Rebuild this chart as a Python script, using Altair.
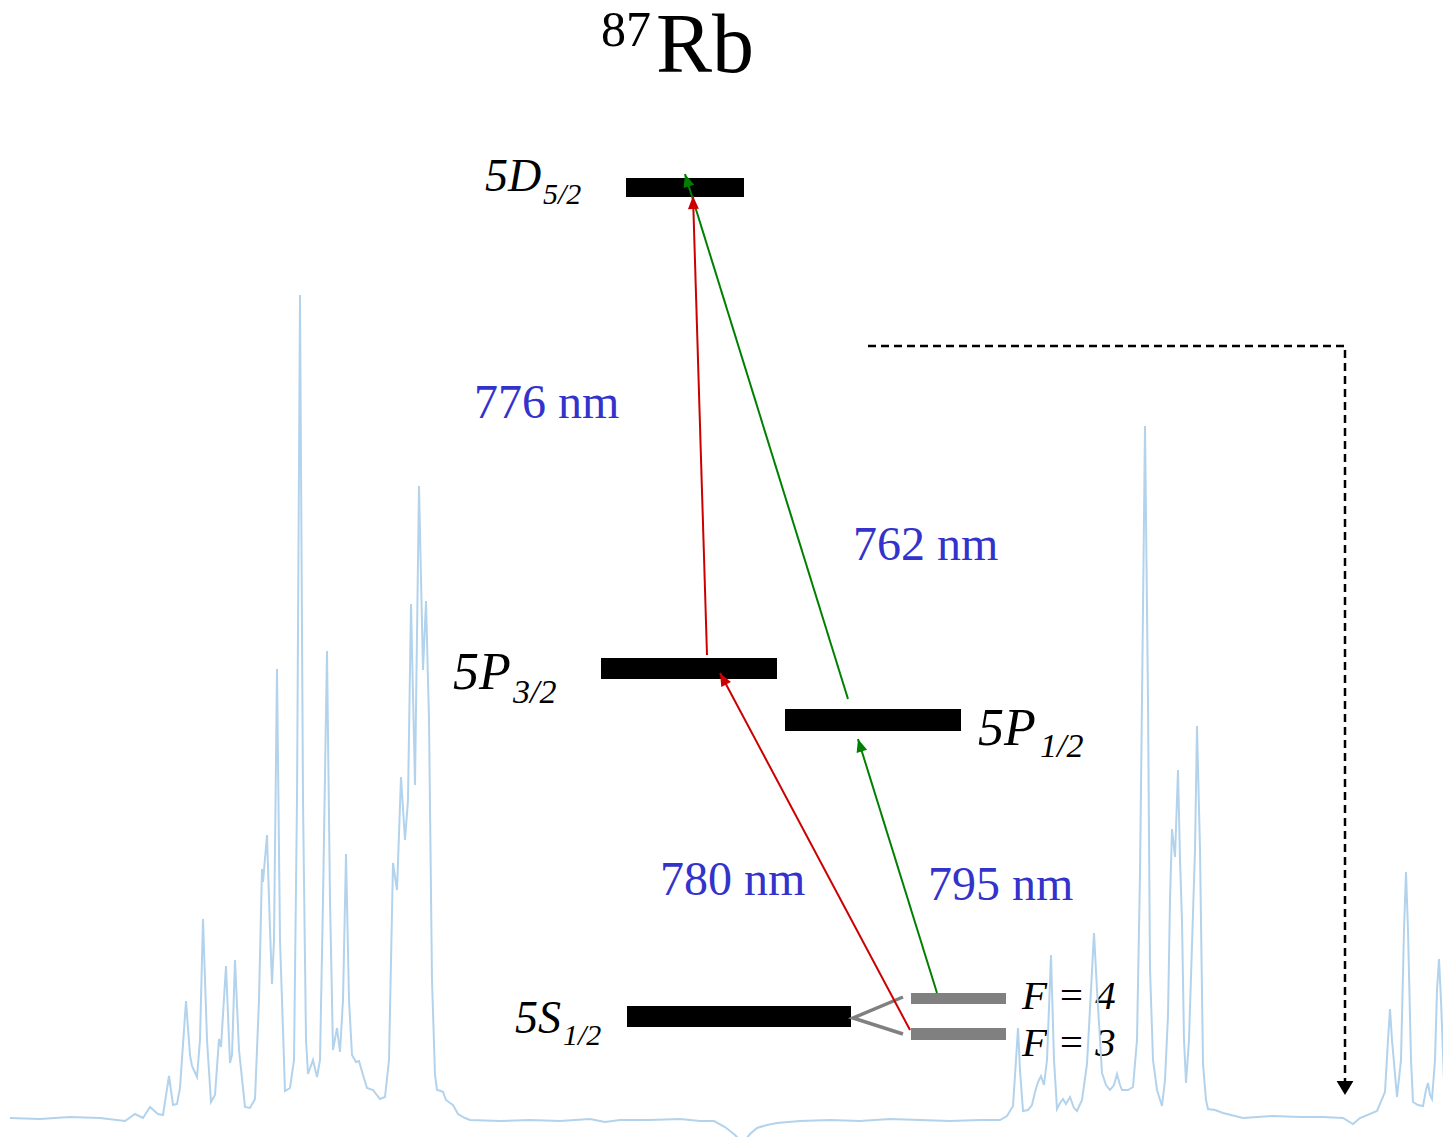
import math
import altair as alt
import pandas as pd

# ---------------- spectrum trace (background) ----------------
trace_x = [10, 40, 70, 100, 125, 135, 143, 150, 158, 163, 169, 173, 177, 180, 186, 190, 192, 197, 200, 203,
           207, 211, 215, 219, 221, 226, 230, 232, 235, 239, 245, 250, 255, 259, 262, 263, 267, 270, 272, 274,
           277, 280, 285, 290, 294, 297, 300, 303, 306, 308, 313, 317, 320, 323, 327, 330, 333, 337, 340, 343,
           346, 349, 352, 356, 359, 363, 367, 373, 380, 385, 389, 393, 397, 401, 405, 408, 411, 415, 419, 423,
           426, 429, 432, 435, 437, 441, 443, 446, 450, 453, 458, 465,
           470, 500, 530, 560, 590, 605, 620, 650, 680, 700, 714, 725, 735, 743, 750, 757, 767, 777, 800, 830,
           860, 890, 920, 950, 980, 1000,
           1007, 1013, 1016, 1018, 1020, 1023, 1028, 1032, 1035, 1038, 1041, 1044, 1047, 1051, 1054, 1057, 1060,
           1063, 1066, 1070, 1074, 1077, 1082, 1087, 1091, 1094, 1097, 1102, 1106, 1110, 1114, 1117, 1120, 1122,
           1128, 1133, 1137, 1140, 1142, 1145, 1148, 1150, 1153, 1157, 1162, 1165, 1168, 1170, 1172, 1175, 1178,
           1180, 1182, 1184, 1186, 1189, 1192, 1195, 1197, 1200, 1203, 1206, 1208, 1215, 1223, 1243,
           1273, 1300, 1323, 1343, 1353, 1360, 1377, 1385, 1388, 1390, 1392, 1397, 1401, 1404, 1406, 1408, 1411,
           1413, 1418, 1423, 1426, 1428, 1430, 1432, 1435, 1437, 1439, 1441, 1444, 1447]
trace_y = [1118, 1119, 1117, 1118, 1121, 1114, 1118, 1107, 1114, 1115, 1076, 1105, 1104, 1088, 1001, 1055, 1066, 1077, 1040, 919,
           1040, 1102, 1095, 1039, 1047, 966, 1063, 1055, 960, 1050, 1107, 1108, 1099, 1000, 869, 882, 835, 930, 984, 940,
           669, 940, 1091, 1088, 1060, 800, 295, 800, 1040, 1074, 1060, 1077, 1060, 900, 651, 900, 1050, 1028, 1052, 1000,
           854, 1000, 1055, 1062, 1061, 1075, 1088, 1090, 1099, 1097, 1060, 863, 890, 777, 840, 800, 604, 785, 486, 670,
           601, 720, 980, 1075, 1090, 1091, 1092, 1100, 1103, 1105, 1114, 1118,
           1120, 1121, 1120, 1121, 1119, 1122, 1120, 1120, 1119, 1121, 1121, 1127, 1135, 1143, 1134, 1128, 1125, 1123, 1121, 1120,
           1121, 1119, 1120, 1121, 1120, 1120,
           1116, 1106, 1060, 1028, 1070, 1111, 1110, 1105, 1092, 1082, 1076, 1085, 1060, 955, 1060, 1109, 1103,
           1099, 1104, 1097, 1108, 1111, 1100, 1064, 990, 933, 990, 1073, 1085, 1090, 1085, 1074, 1085, 1090,
           1090, 1087, 1040, 874, 700, 426, 700, 969, 1060, 1090, 1106, 1080, 1016, 900, 829, 857, 770,
           860, 921, 1040, 1083, 1040, 945, 850, 726, 850, 1064, 1100, 1109, 1110, 1113, 1118,
           1116, 1117, 1117, 1118, 1124, 1118, 1111, 1092, 1040, 1009, 1040, 1097, 1060, 930, 872, 930, 1060,
           1102, 1105, 1106, 1090, 1083, 1095, 1099, 1060, 990, 959, 1000, 1080, 1106]

# ---------------- energy levels ----------------
level_main = ["5D", "5P", "5P", "5S"]
level_sub = ["5/2", "3/2", "1/2", "1/2"]
level_x0 = [626, 601, 785, 627]
level_x1 = [744, 777, 961, 851]
level_y0 = [178, 658, 709, 1006]
level_y1 = [197, 679, 731, 1027]
label_x = [485, 453, 978, 515]
label_y = [191, 689, 745, 1033]
label_size = [46, 52, 52, 46]
sub_x = [543, 513, 1040, 563]
sub_y = [204, 703, 757, 1045]
sub_size = [30, 34, 34, 30]

# hyperfine sub-levels of 5S1/2
hf_text = ["F = 4", "F = 3"]
hf_x0 = [911, 911]
hf_x1 = [1006, 1006]
hf_y0 = [993, 1028]
hf_y1 = [1004, 1040]
hf_label_x = [1022, 1022]
hf_label_y = [1009, 1056]
split_x = [903, 853, 903]
split_y = [997, 1018, 1034]

# ---------------- transitions ----------------
arrow_x0 = [910, 707, 937, 848]
arrow_y0 = [1030, 655, 993, 699]
arrow_x1 = [720, 693, 858, 685]
arrow_y1 = [673, 196, 739, 174]
arrow_color = ["#cc0000", "#cc0000", "#008000", "#008000"]

wl_text = ["776 nm", "762 nm", "780 nm", "795 nm"]
wl_x = [474, 853, 660, 928]
wl_y = [418, 560, 895, 900]

# dashed feedback arrow
dash_x = [868, 1345, 1345]
dash_y = [346, 346, 1082]
dash_tip_x = [1345]
dash_tip_y = [1095]

# title
title_parts = ["87", "Rb"]
title_x = [601, 656]
title_y = [46, 72]
title_size = [50, 84]

# ---------------- build ----------------
XS = alt.Scale(domain=[8, 1443], nice=False, zero=False)
YS = alt.Scale(domain=[8, 1137], nice=False, zero=False, reverse=True)


def X(f="x"):
    return alt.X(f"{f}:Q", scale=XS, axis=None)


def Y(f="y"):
    return alt.Y(f"{f}:Q", scale=YS, axis=None)


trace_df = pd.DataFrame({"x": trace_x, "y": trace_y, "i": range(len(trace_x))})
trace = alt.Chart(trace_df).mark_line(color="#b3d3ec", strokeWidth=2).encode(
    x=X(), y=Y(), order="i:Q")

lev_df = pd.DataFrame({"x": level_x0, "x2": level_x1, "y": level_y0, "y2": level_y1})
levels = alt.Chart(lev_df).mark_rect(color="black").encode(
    x=X(), x2="x2", y=Y(), y2="y2")

hf_df = pd.DataFrame({"x": hf_x0, "x2": hf_x1, "y": hf_y0, "y2": hf_y1})
hf = alt.Chart(hf_df).mark_rect(color="#808080").encode(x=X(), x2="x2", y=Y(), y2="y2")

split_df = pd.DataFrame({"x": split_x, "y": split_y, "i": range(3)})
split = alt.Chart(split_df).mark_line(color="#808080", strokeWidth=3.5).encode(
    x=X(), y=Y(), order="i:Q")

angles = []
for a, b, c, d in zip(arrow_x0, arrow_y0, arrow_x1, arrow_y1):
    ang = math.degrees(math.atan2(c - a, -(d - b))) % 360
    angles.append(ang)
arr_df = pd.DataFrame({"x": arrow_x0, "y": arrow_y0, "x2": arrow_x1, "y2": arrow_y1,
                       "c": arrow_color, "ang": angles})
arr_lines = alt.Chart(arr_df).mark_rule(strokeWidth=2).encode(
    x=X(), y=Y(), x2="x2", y2="y2", color=alt.Color("c:N", scale=None))
arr_heads = alt.Chart(arr_df).mark_point(
    shape="M0,0L0.42,1L-0.42,1Z", filled=True, opacity=1, size=680, strokeWidth=0).encode(
    x=X("x2"), y=Y("y2"), angle=alt.Angle("ang:Q", scale=None), color=alt.Color("c:N", scale=None))

dash_df = pd.DataFrame({"x": dash_x, "y": dash_y, "i": range(3)})
dash = alt.Chart(dash_df).mark_line(color="black", strokeWidth=2.5, strokeDash=[8, 5]).encode(
    x=X(), y=Y(), order="i:Q")
dtip_df = pd.DataFrame({"x": dash_tip_x, "y": dash_tip_y})
dtip = alt.Chart(dtip_df).mark_point(
    shape="M0,0L0.6,1L-0.6,1Z", filled=True, opacity=1, size=784, strokeWidth=0, color="black",
    angle=180).encode(x=X(), y=Y())

SERIF = "Liberation Serif"

lab_df = pd.DataFrame({"x": label_x, "y": label_y, "t": level_main, "s": label_size})
labs = alt.Chart(lab_df).mark_text(font=SERIF, fontStyle="italic", align="left",
                                   baseline="alphabetic", color="black").encode(
    x=X(), y=Y(), text="t:N", size=alt.Size("s:Q", scale=None))
sub_df = pd.DataFrame({"x": sub_x, "y": sub_y, "t": level_sub, "s": sub_size})
subs = alt.Chart(sub_df).mark_text(font=SERIF, fontStyle="italic", align="left",
                                   baseline="alphabetic", color="black").encode(
    x=X(), y=Y(), text="t:N", size=alt.Size("s:Q", scale=None))

hfl_df = pd.DataFrame({"x": hf_label_x, "y": hf_label_y, "t": hf_text})
hfl = alt.Chart(hfl_df).mark_text(font=SERIF, fontStyle="italic", align="left",
                                  baseline="alphabetic", color="black", fontSize=41).encode(
    x=X(), y=Y(), text="t:N")

wl_df = pd.DataFrame({"x": wl_x, "y": wl_y, "t": wl_text})
wl = alt.Chart(wl_df).mark_text(font=SERIF, align="left", baseline="alphabetic",
                                color="#3333cc", fontSize=48).encode(
    x=X(), y=Y(), text="t:N")

tit_df = pd.DataFrame({"x": title_x, "y": title_y, "t": title_parts, "s": title_size})
tit = alt.Chart(tit_df).mark_text(font=SERIF, align="left", baseline="alphabetic",
                                  color="black").encode(
    x=X(), y=Y(), text="t:N", size=alt.Size("s:Q", scale=None))

chart = alt.layer(
    levels, hf, split, arr_lines, arr_heads, dash, dtip, labs, subs, hfl, wl, tit, trace
).properties(
    width=1435, height=1129, padding=0,
    autosize=alt.AutoSizeParams(type="none"),
).configure_view(stroke="transparent", strokeWidth=0, fill="white")

chart.save("out.html", embed_options={"renderer": "svg", "actions": False})
